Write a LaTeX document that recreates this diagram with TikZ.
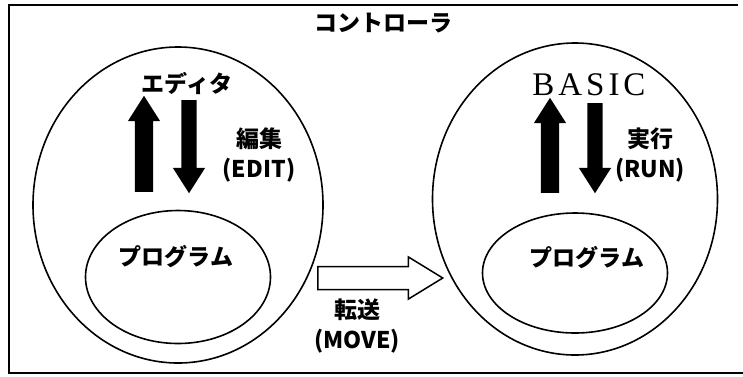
\documentclass[tikz,border=0pt]{standalone}
\usepackage{fontspec}
\setmainfont{Noto Sans CJK JP}
\newfontfamily\basicfont[LetterSpace=12]{Liberation Serif}
\usetikzlibrary{shapes.geometric, shapes.arrows, positioning}

\begin{document}
\begin{tikzpicture}[
  x=1pt, y=-1pt,
  font=\bfseries\fontsize{23}{30}\selectfont,
  world/.style={draw, ellipse, line width=1.6pt, minimum width=290pt, minimum height=316pt},
  prog/.style={draw, ellipse, line width=1.6pt, minimum width=185pt, minimum height=133pt},
  lbl/.style={align=center, inner sep=0pt},
  uparrow/.style={single arrow, fill=black, inner sep=9pt, anchor=tail,
                  minimum height=96pt, single arrow head extend=7pt,
                  single arrow tip angle=65, shape border rotate=90},
  downarrow/.style={uparrow, inner sep=7.5pt, shape border rotate=270,
                    single arrow head extend=8.5pt},
  movearrow/.style={single arrow, draw, line width=1.5pt, fill=white, inner sep=10.75pt,
                    anchor=tail, minimum height=125pt,
                    single arrow head extend=9.5pt, single arrow tip angle=63},
]
\useasboundingbox (0,0) rectangle (743,376);

% frame
\draw[line width=1.6pt] (738,5) -- (9,5) -- (9,373) -- (743,373);
\node[lbl] (title) at (383,23) {コントローラ};

% editor side
\node[world] (edworld) at (178,205) {};
\node[prog] (edprog) at (178,277) {};
\node[lbl] (edname) at (176,257) {プログラム};
\node[lbl] (editor) at (187,83) {エディタ};
\node[uparrow] (edup) at (144,192) {};
\node[downarrow, minimum height=93pt] (eddown) at (189,100) {};
\node[lbl] (edit) at (259,155) {編集\\(EDIT)};

% basic side
\node[world, minimum width=285pt, minimum height=312pt] (runworld) at (575,199) {};
\node[prog, minimum height=120pt] (runprog) at (575,273) {};
\node[lbl] (runname) at (587,258) {プログラム};
\node[lbl, font=\basicfont\fontsize{33}{33}\selectfont] (basic) at (589,85) {BASIC};
\node[uparrow, minimum height=95pt] (runup) at (550,193) {};
\node[downarrow, minimum height=90pt] (rundown) at (595,103) {};
\node[lbl] (run) at (650,155) {実行\\(RUN)};

% move
\node[movearrow] (move) at (317,278) {};
\node[lbl] (movetxt) at (357,326) {転送\\(MOVE)};
\end{tikzpicture}
\end{document}
